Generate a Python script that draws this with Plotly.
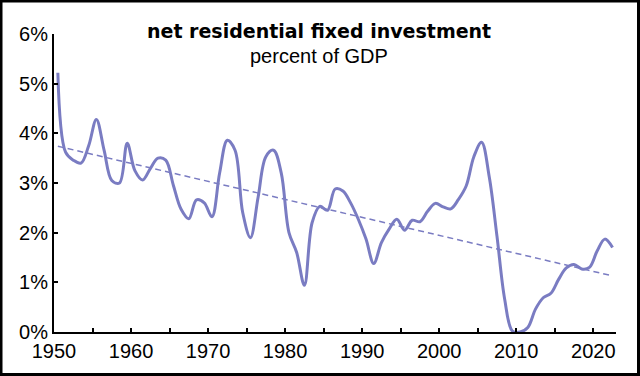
import plotly.graph_objects as go

# ---- data ----
years = list(range(1950, 2023))
values = [
    5.22, 3.62, 3.46, 3.40, 3.75, 4.28, 3.66, 3.05, 3.00, 3.80,
    3.25, 3.06, 3.29, 3.50, 3.46, 2.95, 2.47, 2.28, 2.66, 2.60,
    2.32, 3.20, 3.86, 3.66, 2.40, 1.90, 2.72, 3.53, 3.66, 3.20,
    2.00, 1.60, 0.94, 2.20, 2.53, 2.45, 2.88, 2.84, 2.60, 2.27,
    1.87, 1.38, 1.80, 2.07, 2.27, 2.05, 2.25, 2.22, 2.43, 2.59,
    2.52, 2.48, 2.67, 2.94, 3.53, 3.82, 3.12, 1.93, 0.66, 0.02,
    0.00, 0.09, 0.46, 0.69, 0.78, 1.06, 1.29, 1.36, 1.27, 1.30,
    1.63, 1.87, 1.70,
]
trend_years = [1950, 2022]
trend_values = [3.74, 1.13]

x_tick_vals = [1950, 1960, 1970, 1980, 1990, 2000, 2010, 2020]
x_tick_text = ["1950", "1960", "1970", "1980", "1990", "2000", "2010", "2020"]
y_tick_vals = [0, 1, 2, 3, 4, 5, 6]
y_tick_text = ["0%", "1%", "2%", "3%", "4%", "5%", "6%"]

title_text = "net residential fixed investment"
subtitle_text = "percent of GDP"

# ---- layout geometry ----
W, H = 640, 376
L, R, T, B = 54, 24, 34, 44
PW, PH = W - L - R, H - T - B

def px_x(px):
    return (px - L) / PW

def px_y(py):
    return (H - B - py) / PH

line_color = "#7a7cc2"
mid = 0.5  # annual values plotted at mid-year

fig = go.Figure()
fig.add_trace(go.Scatter(
    x=[y + mid for y in trend_years], y=trend_values, mode="lines",
    line=dict(color=line_color, width=1.5, dash="6px,4px"),
    hoverinfo="skip", showlegend=False,
))
fig.add_trace(go.Scatter(
    x=[y + mid for y in years], y=values, mode="lines",
    line=dict(color=line_color, width=3, shape="spline", smoothing=1.0),
    showlegend=False,
))

axis_font = dict(family="Liberation Sans, Arial, sans-serif", size=20, color="black")

fig.update_layout(
    width=W, height=H, autosize=False,
    margin=dict(l=L, r=R, t=T, b=B, pad=0),
    paper_bgcolor="white", plot_bgcolor="white",
    xaxis=dict(
        range=[1950, 2022.95], showgrid=False, zeroline=False,
        showline=True, linecolor="black", linewidth=2,
        tickmode="array", tickvals=x_tick_vals, ticktext=x_tick_text,
        ticks="inside", ticklen=4, tickwidth=2, tickcolor="black",
        minor=dict(tickmode="linear", tick0=1955, dtick=10, ticks="inside",
                   ticklen=4, tickwidth=2, tickcolor="black", showgrid=False),
        tickfont=axis_font, fixedrange=True,
    ),
    yaxis=dict(
        range=[0, 6], showgrid=False, zeroline=False,
        showline=True, linecolor="black", linewidth=2,
        tickmode="array", tickvals=y_tick_vals, ticktext=y_tick_text,
        ticks="inside", ticklen=4, tickwidth=2, tickcolor="black",
        tickfont=axis_font, fixedrange=True,
    ),
    annotations=[
        dict(text="<b>" + title_text + "</b>", xref="paper", yref="paper",
             x=px_x(319), y=px_y(31), xanchor="center", yanchor="middle",
             showarrow=False,
             font=dict(family="DejaVu Sans, sans-serif", size=19, color="black")),
        dict(text=subtitle_text, xref="paper", yref="paper",
             x=px_x(319), y=px_y(56), xanchor="center", yanchor="middle",
             showarrow=False,
             font=dict(family="Liberation Sans, Arial, sans-serif", size=20, color="black")),
    ],
    shapes=[
        dict(type="rect", xref="paper", yref="paper",
             x0=px_x(1), x1=px_x(638.5), y0=px_y(374.5), y1=px_y(1),
             line=dict(color="black", width=3), fillcolor="rgba(0,0,0,0)",
             layer="above"),
    ],
)

fig.write_html(
    "out.html",
    config={"displayModeBar": False},
    post_script="document.body.style.margin='0';document.body.style.overflow='hidden';",
)
